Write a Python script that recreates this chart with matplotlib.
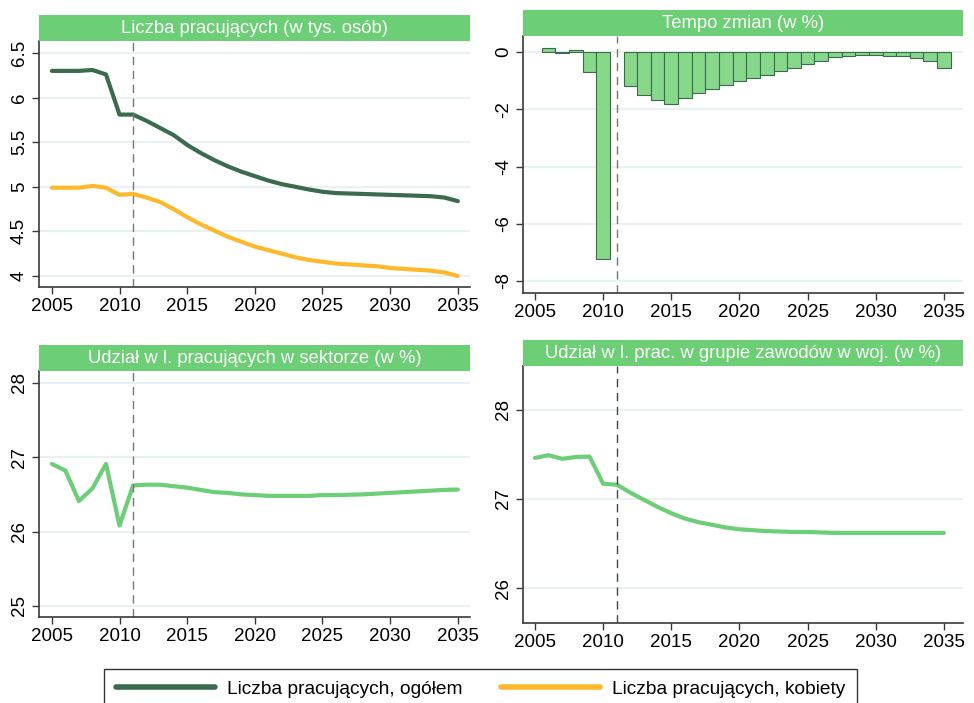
import numpy as np
import matplotlib
matplotlib.use('Agg')
import matplotlib.pyplot as plt
from matplotlib.lines import Line2D

plt.rcParams['font.family'] = ['Liberation Sans', 'DejaVu Sans']

years = list(range(2005, 2036))

# Liczba pracujacych (w tys. osob)
total = [6.30, 6.30, 6.30, 6.31, 6.26, 5.81, 5.81, 5.74, 5.66, 5.58,
         5.47, 5.38, 5.30, 5.23, 5.17, 5.12, 5.07, 5.03, 5.00, 4.97,
         4.945, 4.93, 4.925, 4.92, 4.915, 4.91, 4.905, 4.90, 4.895, 4.88, 4.84]
women = [4.99, 4.99, 4.99, 5.01, 4.99, 4.91, 4.92, 4.88, 4.83, 4.75,
         4.66, 4.58, 4.51, 4.44, 4.385, 4.33, 4.29, 4.25, 4.21, 4.18,
         4.16, 4.14, 4.13, 4.12, 4.11, 4.09, 4.08, 4.07, 4.06, 4.04, 4.00]

# Tempo zmian (w %)
change_years = list(range(2006, 2036))
change = [0.15, -0.02, 0.07, -0.70, -7.24, np.nan, -1.20, -1.49, -1.69, -1.81,
          -1.60, -1.42, -1.28, -1.14, -1.02, -0.92, -0.79, -0.67, -0.56, -0.41,
          -0.30, -0.19, -0.14, -0.10, -0.10, -0.13, -0.15, -0.21, -0.30, -0.57]

# Udzial w l. pracujacych w sektorze (w %)
sector_share = [26.91, 26.82, 26.41, 26.58, 26.91, 26.08, 26.62, 26.63, 26.63, 26.61,
                26.59, 26.56, 26.53, 26.52, 26.50, 26.49, 26.48, 26.48, 26.48, 26.48,
                26.49, 26.49, 26.495, 26.50, 26.51, 26.52, 26.53, 26.54, 26.55, 26.56, 26.565]

# Udzial w l. prac. w grupie zawodow w woj. (w %)
group_share = [27.46, 27.49, 27.45, 27.47, 27.475, 27.17, 27.16, 27.07, 26.99, 26.91,
               26.84, 26.78, 26.74, 26.71, 26.68, 26.66, 26.65, 26.64, 26.635, 26.63,
               26.63, 26.625, 26.62, 26.62, 26.62, 26.62, 26.62, 26.62, 26.62, 26.62, 26.62]

titles = ["Liczba pracujących (w tys. osób)", "Tempo zmian (w %)",
          "Udział w l. pracujących w sektorze (w %)",
          "Udział w l. prac. w grupie zawodów w woj. (w %)"]
legend_labels = ["Liczba pracujących, ogółem", "Liczba pracujących, kobiety"]

dark_green = '#3b6b4d'
orange = '#fdb92b'
green = '#6ccf77'
bar_fill = '#88d88c'
bar_edge = '#3b6b4d'
bar_title = '#6ccf75'
grid_col = '#eaf1f3'
spine_col = '#3a3a3a'

W, H = 974, 703
fig = plt.figure(figsize=(W / 100, H / 100), dpi=100)


def make_axes(x0, x1, y_top, y_bot, title_top, title):
	# pixel coords -> figure fractions
	ax = fig.add_axes([x0 / W, 1 - y_bot / H, (x1 - x0) / W, (y_bot - y_top) / H])
	tax = fig.add_axes([x0 / W, 1 - y_top / H, (x1 - x0) / W, (y_top - title_top) / H])
	tax.set_facecolor(bar_title)
	tax.set_xticks([])
	tax.set_yticks([])
	for s in tax.spines.values():
		s.set_visible(False)
	tax.text(0.5, 0.47, title, color='white', fontsize=13.3, ha='center', va='center',
		transform=tax.transAxes)
	for s in ['top', 'right']:
		ax.spines[s].set_visible(False)
	for s in ['left', 'bottom']:
		ax.spines[s].set_color(spine_col)
		ax.spines[s].set_linewidth(1.2)
	ax.tick_params(axis='both', labelsize=13.5, length=5, width=1.0, color=spine_col, pad=3)
	ax.set_xticks(range(2005, 2036, 5))
	ax.grid(axis='y', color=grid_col, linewidth=1.5)
	ax.set_axisbelow(True)
	return ax


def finish_y(ax, ticks):
	ax.set_yticks(ticks)
	ax.set_yticklabels([('%g' % t) for t in ticks], rotation=90, va='center')


# panel 1
ax1 = make_axes(39, 470, 41, 287, 15, titles[0])
ax1.plot(years, total, color=dark_green, lw=3, solid_capstyle='round')
ax1.plot(years, women, color=orange, lw=3, solid_capstyle='round')
ax1.axvline(2011, color='#777777', lw=1, dashes=(6, 4))
ax1.set_xlim(2004.05, 2035.9)
ax1.set_ylim(3.877, 6.635)
finish_y(ax1, [4, 4.5, 5, 5.5, 6, 6.5])

# panel 2
ax2 = make_axes(523, 963, 36, 293, 10, titles[1])
ax2.bar(change_years, change, width=1.0, color=bar_fill, edgecolor=bar_edge, linewidth=0.8)
ax2.axvline(2011, color='#777777', lw=1, dashes=(6, 4))
ax2.set_xlim(2004.12, 2036.4)
ax2.set_ylim(-8.42, 0.56)
finish_y(ax2, [-8, -6, -4, -2, 0])

# panel 3
ax3 = make_axes(39, 470, 371, 617, 345, titles[2])
ax3.plot(years, sector_share, color=green, lw=3, solid_capstyle='round')
ax3.axvline(2011, color='#777777', lw=1, dashes=(6, 4))
ax3.set_xlim(2004.05, 2035.9)
ax3.set_ylim(24.85, 28.16)
finish_y(ax3, [25, 26, 27, 28])

# panel 4
ax4 = make_axes(523, 963, 366, 623, 340, titles[3])
ax4.plot(years, group_share, color=green, lw=3, solid_capstyle='round')
ax4.axvline(2011, color='#444444', lw=1, dashes=(6, 4))
ax4.set_xlim(2004.12, 2036.4)
ax4.set_ylim(25.61, 28.49)
finish_y(ax4, [26, 27, 28])

handles = [Line2D([], [], color=dark_green, lw=4, solid_capstyle='round'),
	Line2D([], [], color=orange, lw=4, solid_capstyle='round')]
leg = fig.legend(handles, legend_labels, loc='upper left', bbox_to_anchor=(104 / W, 1 - 669 / H),
	ncol=2, frameon=True, fancybox=False, edgecolor='black', fontsize=13.8,
	handlelength=5.2, columnspacing=2.0, borderpad=0.6, handletextpad=0.6,
	borderaxespad=0)
leg.get_frame().set_linewidth(1.0)

fig.savefig('out.png', dpi=100)
